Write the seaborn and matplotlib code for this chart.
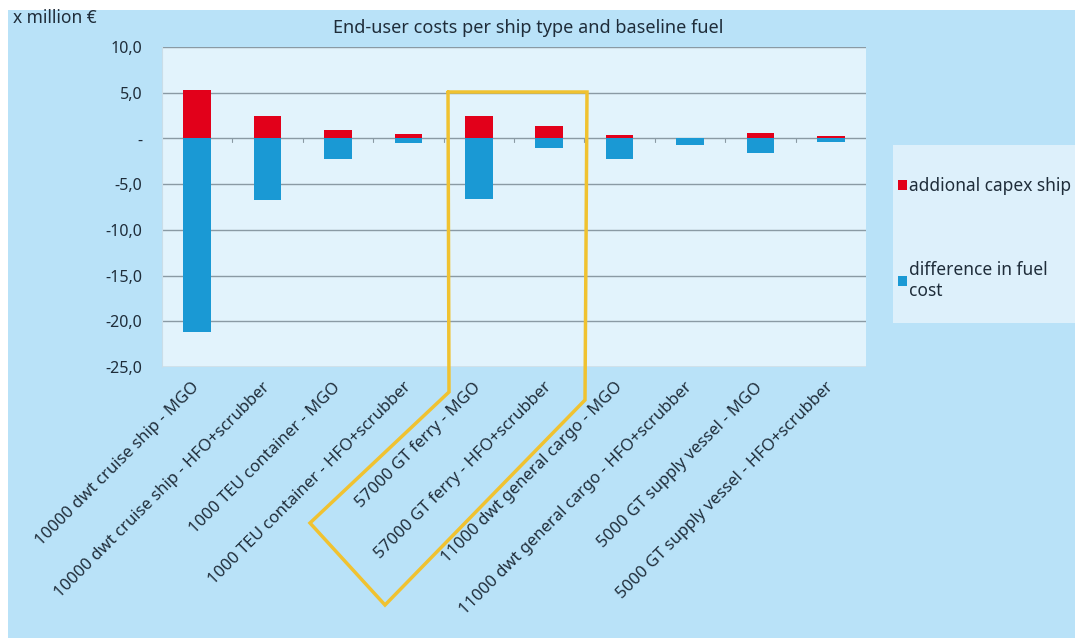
import matplotlib
matplotlib.use("Agg")
import matplotlib.pyplot as plt
import matplotlib.patches as mpatches
from matplotlib.lines import Line2D
import seaborn as sns
import pandas as pd

# data (million EUR)
ships = [
    "10000 dwt cruise ship - MGO",
    "10000 dwt cruise ship - HFO+scrubber",
    "1000 TEU container - MGO",
    "1000 TEU container - HFO+scrubber",
    "57000 GT ferry - MGO",
    "57000 GT ferry - HFO+scrubber",
    "11000 dwt general cargo - MGO",
    "11000 dwt general cargo - HFO+scrubber",
    "5000 GT supply vessel - MGO",
    "5000 GT supply vessel - HFO+scrubber",
]
capex = [5.35, 2.4, 0.9, 0.5, 2.4, 1.35, 0.4, 0.1, 0.55, 0.3]
fuel_diff = [-21.2, -6.7, -2.3, -0.55, -6.6, -1.0, -2.3, -0.75, -1.6, -0.4]
yticks = [10, 5, 0, -5, -10, -15, -20, -25]
ytick_labels = ["10,0", "5,0", "-", "-5,0", "-10,0", "-15,0", "-20,0", "-25,0"]

RED = "#e2001a"
BLUE = "#1a99d4"
BG = "#b9e2f8"
PLOT_BG = "#e2f3fc"
TEXT = "#1f2d3a"

sns.set_style("white")
plt.rcParams["font.family"] = ["Noto Sans", "DejaVu Sans"]

df = pd.DataFrame({"ship": ships, "capex": capex, "fuel": fuel_diff})

fig = plt.figure(figsize=(10.75, 6.38), dpi=100, facecolor="white")
# blue panel behind the chart
fig.patches.append(mpatches.Rectangle((8 / 1075, 0), 1 - 8 / 1075, 1 - 10 / 638,
                                      transform=fig.transFigure, facecolor=BG,
                                      edgecolor="none", zorder=-10))

ax = fig.add_axes([162 / 1075, 1 - 367 / 638, 704 / 1075, 320 / 638])
ax.set_facecolor(PLOT_BG)

sns.barplot(data=df, x="ship", y="capex", color=RED, width=0.39, ax=ax,
            saturation=1, label="addional capex ship", linewidth=0, zorder=3)
sns.barplot(data=df, x="ship", y="fuel", color=BLUE, width=0.39, ax=ax,
            saturation=1, label="difference in fuel\ncost", linewidth=0, zorder=3)
handles, labels = ax.get_legend_handles_labels()
if ax.legend_ is not None:
    ax.legend_.remove()

ax.set_ylim(-25, 10)
ax.set_xlim(-0.5, len(ships) - 0.5)
ax.set_yticks(yticks)
ax.set_yticklabels(ytick_labels, fontsize=11.5, fontweight="bold", color=TEXT)
ax.yaxis.grid(True, color="#8a9aa4", linewidth=1.0, zorder=0)
ax.set_axisbelow(True)
for s in ["top", "right", "bottom"]:
    ax.spines[s].set_visible(False)
ax.spines["left"].set_color("#c9dde8")
ax.tick_params(axis="y", length=0, pad=14)
ax.tick_params(axis="x", length=0, pad=13)

# small category separators on the zero line
for i in range(len(ships) - 1):
    ax.plot([i + 0.5, i + 0.5], [0, -0.4], color="#8a9aa4", lw=0.8, zorder=2)

ax.set_xticks(range(len(ships)))
ax.set_xticklabels(ships, rotation=45, ha="right", va="center",
                   rotation_mode="anchor", fontsize=12, color=TEXT)
ax.set_xlabel("")
ax.set_ylabel("")

# titles
fig.text(528 / 1075, 1 - 28 / 638, "End-user costs per ship type and baseline fuel",
         ha="center", va="center", fontsize=13, color=TEXT)
fig.text(13 / 1075, 1 - 18 / 638, "x million \u20ac", ha="left", va="center",
         fontsize=12.5, fontweight="bold", color=TEXT)

# legend panel
fig.patches.append(mpatches.Rectangle((893 / 1075, 1 - 323 / 638), 182 / 1075, 178 / 638,
                                      transform=fig.transFigure, facecolor="#ddf0fb",
                                      edgecolor="none", zorder=-5))
leg = fig.legend(handles, labels, loc="upper left",
                 bbox_to_anchor=(891 / 1075, 1 - 170 / 638), frameon=False,
                 fontsize=12.5, handlelength=0.5, handleheight=0.5,
                 handletextpad=0.15, labelspacing=3.8, borderaxespad=0)
for t in leg.get_texts():
    t.set_color(TEXT)

# yellow highlight outline around the ferry bars
px = [448, 587, 585, 385, 310, 449, 448]
py = [92, 92, 400, 605, 523, 392, 92]
fig.lines.append(Line2D([x / 1075 for x in px], [1 - y / 638 for y in py],
                        transform=fig.transFigure, color="#f0c230", lw=2.5,
                        solid_joinstyle="miter", zorder=20))

fig.savefig("out.png", dpi=100, facecolor=fig.get_facecolor())
